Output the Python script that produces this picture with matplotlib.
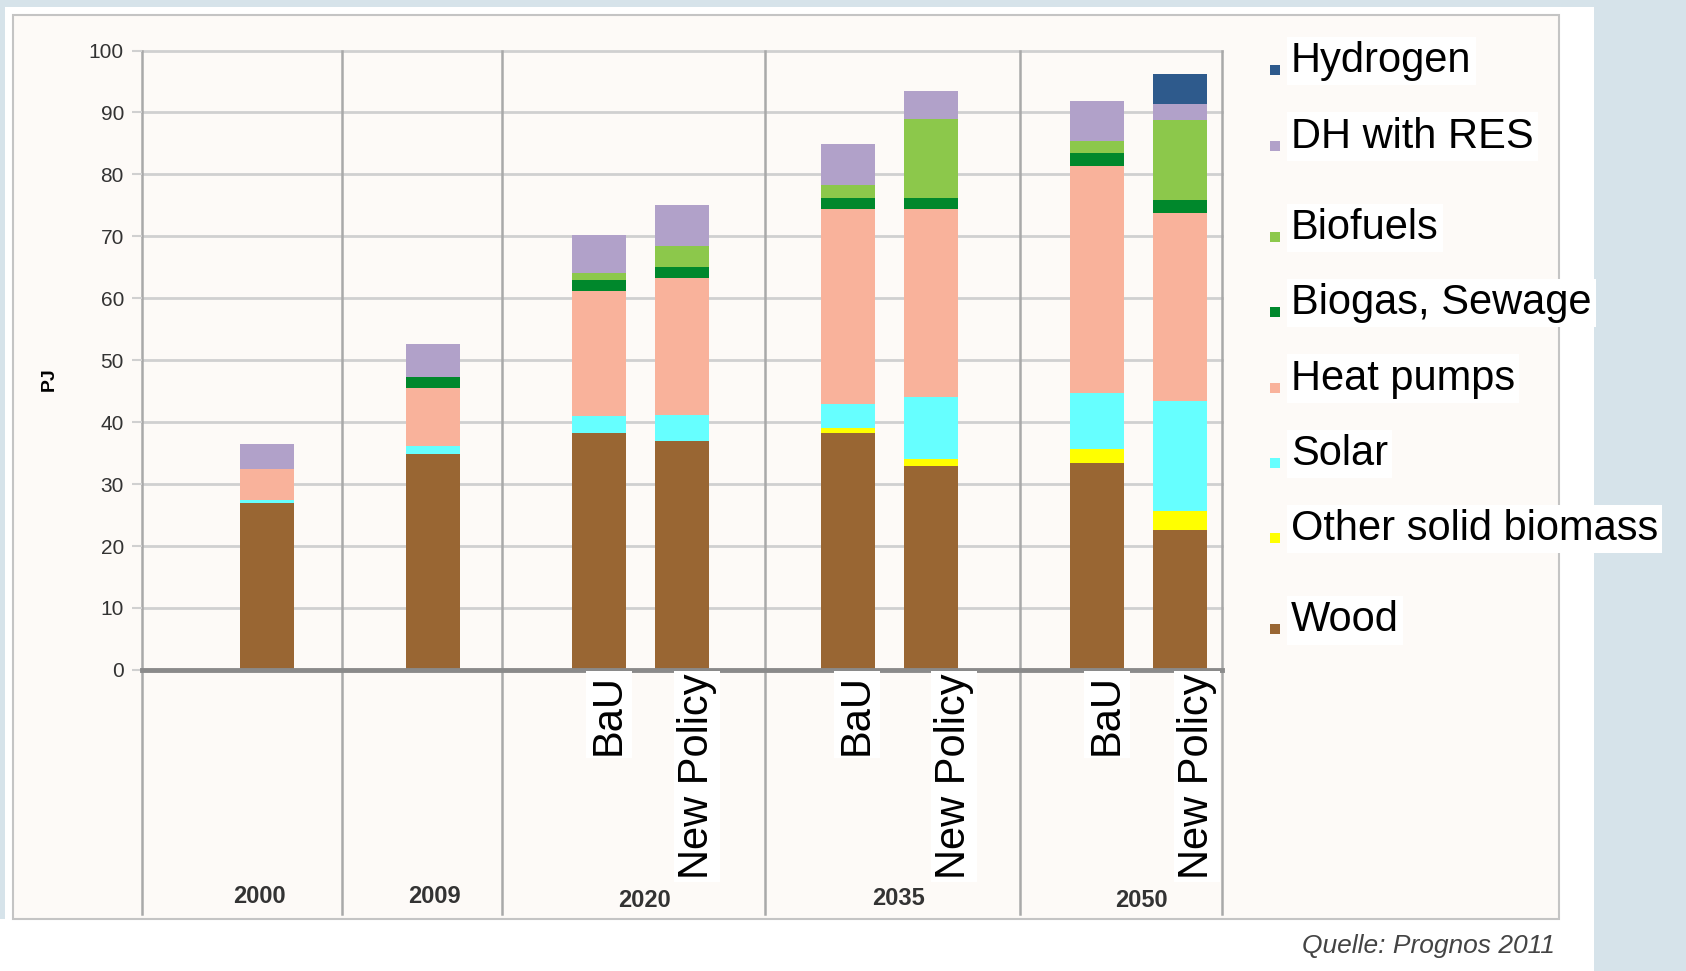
import matplotlib
matplotlib.use('Agg')
from matplotlib import pyplot as plt
from matplotlib.patches import Rectangle

plt.rcParams['font.family'] = ['Liberation Sans', 'DejaVu Sans']

# bars: 2000, 2009, then BaU / New Policy for 2020, 2035, 2050
bar_pos = [0, 2, 4, 5, 7, 8, 10, 11]
wood = [27.0, 34.8, 38.3, 36.9, 38.3, 32.9, 33.4, 22.6]
other_biomass = [0, 0, 0, 0, 0.7, 1.2, 2.3, 3.0]
solar = [0.5, 1.4, 2.7, 4.3, 4.0, 10.0, 9.0, 17.8]
heat_pumps = [4.9, 9.3, 20.1, 22.0, 31.4, 30.3, 36.7, 30.3]
biogas = [0, 1.8, 1.9, 1.9, 1.8, 1.8, 2.0, 2.1]
biofuels = [0, 0, 1.0, 3.3, 2.1, 12.8, 2.0, 12.9]
dh_res = [4.1, 5.3, 6.2, 6.7, 6.6, 4.5, 6.4, 2.6]
hydrogen = [0, 0, 0, 0, 0, 0, 0, 4.9]

series = [
    ('Wood', wood, '#996633'),
    ('Other solid biomass', other_biomass, '#ffff00'),
    ('Solar', solar, '#66ffff'),
    ('Heat pumps', heat_pumps, '#f9b29b'),
    ('Biogas, Sewage', biogas, '#00882c'),
    ('Biofuels', biofuels, '#8cc84b'),
    ('DH with RES', dh_res, '#b1a1c9'),
    ('Hydrogen', hydrogen, '#2e5a8c'),
]

years = ['2000', '2009', '2020', '2035', '2050']
year_x = [-0.08, 2.02, 4.55, 7.61, 10.54]
year_y = [-36.5, -36.5, -37.2, -36.9, -37.2]
scen_labels = ['BaU', 'New Policy', 'BaU', 'New Policy', 'BaU', 'New Policy']
scen_x = [4.12, 5.18, 7.11, 8.28, 10.12, 11.2]
separators = [0.91, 2.83, 6.0, 9.07]

W, H = 1686, 971
fig = plt.figure(figsize=(W / 100, H / 100), dpi=100)
fig.patch.set_facecolor('white')

# background frame (drawn below the axes)
blue = '#d6e3ea'
bg = [
    Rectangle((0, 1 - 7 / H), 1594 / W, 7 / H, fc=blue, ec='none'),
    Rectangle((0, 1 - 919 / H), 5 / W, 919 / H, fc=blue, ec='none'),
    Rectangle((1594 / W, 0), 1 - 1594 / W, 1, fc=blue, ec='none'),
    Rectangle((13 / W, 1 - 919 / H), (1559 - 13) / W, (919 - 15) / H, fc='#fdfaf7', ec='#c4c4c4', lw=1.5),
]
for r in bg:
    r.set_transform(fig.transFigure)
    r.set_zorder(-10)
    fig.add_artist(r)

ax = fig.add_axes([142 / W, 1 - 914 / H, (1221.5 - 142) / W, (914 - 50.5) / H])
ax.set_facecolor('none')
ax.set_xlim(-1.5, 11.5)
ax.set_ylim(-39.4, 100)
for s in ax.spines.values():
    s.set_visible(False)

# grid
for v in range(10, 101, 10):
    ax.plot([-1.5, 11.5], [v, v], color='#d0d0d0', lw=2, clip_on=False, zorder=1)
for sx in [-1.5] + separators + [11.5]:
    ax.plot([sx, sx], [-39.4, 100], color='#a9a9a9', lw=1.8, clip_on=False, zorder=1)

bottom = [0] * len(bar_pos)
for name, vals, col in series:
    ax.bar(bar_pos, vals, width=0.65, bottom=bottom, color=col, zorder=3)
    bottom = [b + v for b, v in zip(bottom, vals)]

ax.plot([-1.5, 11.5], [0, 0], color='#8a8a8a', lw=3.5, zorder=4, clip_on=False)

ax.set_yticks(range(0, 101, 10))
ax.set_xticks([])
ax.tick_params(axis='y', length=7, width=1.5, color='#d0d0d0', labelsize=15, labelcolor='#333333', pad=6)
ax.set_ylabel('PJ', fontsize=14, fontweight='bold', labelpad=0)
ax.yaxis.set_label_coords(-0.078, 0.62)

for yr, x, y in zip(years, year_x, year_y):
    ax.text(x, y, yr, ha='center', va='center', fontsize=17, fontweight='bold', color='#333333')

for lab, x in zip(scen_labels, scen_x):
    ax.text(x, -0.6, lab, rotation=90, ha='center', va='top', fontsize=30, color='black', zorder=5,
            bbox=dict(fc='white', ec='none', pad=2))

# legend
leg_y = [57, 127, 212, 282, 352, 422, 492, 577]
leg_names = ['Hydrogen', 'DH with RES', 'Biofuels', 'Biogas, Sewage', 'Heat pumps', 'Solar',
             'Other solid biomass', 'Wood']
cols = {n: c for n, v, c in series}
for name, yd in zip(leg_names, leg_y):
    yf = yd * 1.0753
    fig.add_artist(Rectangle((1270 / W, 1 - (yf + 14) / H), 10 / W, 10 / H, transform=fig.transFigure,
                             fc=cols[name], ec='none'))
    fig.text(1291 / W, 1 - yf / H, name, ha='left', va='center', fontsize=30, color='black',
             bbox=dict(fc='white', ec='none', pad=3))

fig.text(1555 / W, 1 - 946 / H, 'Quelle: Prognos 2011', ha='right', va='center', fontsize=19,
         style='italic', color='#444444')

fig.savefig('out.png', dpi=100)
